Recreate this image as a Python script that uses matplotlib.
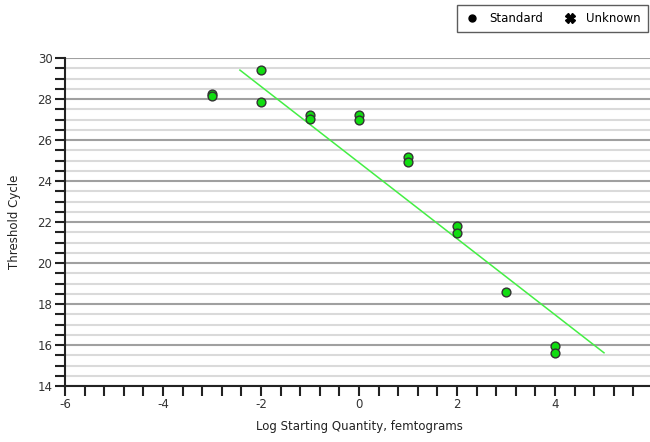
import matplotlib
matplotlib.use('Agg')
import matplotlib.pyplot as plt
from matplotlib.ticker import MultipleLocator
from matplotlib.lines import Line2D

plt.rcParams['axes.unicode_minus'] = False

# standard curve: log starting quantity vs threshold cycle
log_qty = [-3, -3, -2, -2, -1, -1, 0, 0, 1, 1, 2, 2, 3, 4, 4]
ct_vals = [28.25, 28.15, 29.4, 27.85, 27.22, 27.04, 27.2, 27.0,
           25.15, 24.93, 21.8, 21.48, 18.6, 15.95, 15.62]

# regression line ends
fit_x = [-2.43, 5.0]
fit_y = [29.41, 15.62]

fig = plt.figure(figsize=(6.5, 4.42), dpi=100)
ax = fig.add_axes([65 / 650, 1 - 386 / 442, 588 / 650, 328 / 442])

ax.set_xlim(-6, 6)
ax.set_ylim(14, 30)
ax.xaxis.set_major_locator(MultipleLocator(2))
ax.xaxis.set_minor_locator(MultipleLocator(0.4))
ax.yaxis.set_major_locator(MultipleLocator(2))
ax.yaxis.set_minor_locator(MultipleLocator(0.5))

ax.grid(True, which='minor', axis='y', color='#dadada', linewidth=1.5, zorder=0)
ax.grid(True, which='major', axis='y', color='#a0a0a0', linewidth=1.5, zorder=0)
ax.set_axisbelow(True)

for s in ['top', 'right']:
    ax.spines[s].set_visible(False)
for s in ['left', 'bottom']:
    ax.spines[s].set_linewidth(1.5)
    ax.spines[s].set_color('#222222')

ax.tick_params(which='both', direction='out', width=1.5, colors='#222222',
               labelsize=8.5, labelcolor='#333333')
ax.tick_params(which='major', length=7, pad=2)
ax.tick_params(which='minor', length=7)

ax.plot(fit_x, fit_y, color='#44ee44', linewidth=1.1, zorder=2)
ax.scatter(log_qty, ct_vals, s=40, color='#11dd11', edgecolors='#333333',
           linewidths=1.0, zorder=3)

ax.set_xlabel('Log Starting Quantity, femtograms', fontsize=8.5,
              color='#222222', labelpad=6)
ax.set_ylabel('Threshold Cycle', fontsize=8.5, color='#222222', labelpad=12)

handles = [
    Line2D([], [], marker='o', linestyle='none', color='black', markersize=5),
    Line2D([], [], marker='X', linestyle='none', color='black', markersize=7),
]
leg = fig.legend(handles, ['Standard', 'Unknown'], loc='upper left',
                 bbox_to_anchor=(457 / 650, 1 - 5 / 442), borderaxespad=0,
                 ncol=2, fontsize=8.5, frameon=True, fancybox=False,
                 handletextpad=0.7, columnspacing=1.6, borderpad=0.6,
                 handlelength=1.4)
leg.get_frame().set_edgecolor('#333333')
leg.get_frame().set_linewidth(1.0)

fig.savefig('out.png', dpi=100)
